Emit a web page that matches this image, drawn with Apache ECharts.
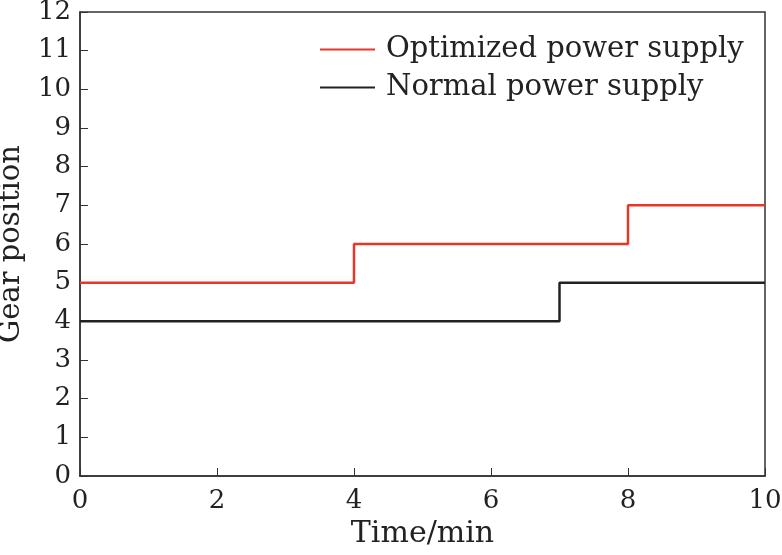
<!DOCTYPE html>
<html>
<head>
<meta charset="utf-8">
<script src="https://cdn.jsdelivr.net/npm/echarts@6/dist/echarts.min.js"></script>
<style>
  html, body { margin: 0; padding: 0; background: #fff; }
  #main { width: 782px; height: 555px; }
</style>
</head>
<body>
<div id="main"></div>
<script>
// gear position steps: each value holds until the next time point
var optTime = [0, 4, 8, 10];
var optGear = [5, 6, 7, 7];
var normTime = [0, 7, 10];
var normGear = [4, 5, 5];
var seriesNames = ['Optimized power supply', 'Normal power supply'];

function pairs(xs, ys) {
    return xs.map(function (x, i) { return [x, ys[i]]; });
}

var font = 'DejaVu Serif';
var myChart = echarts.init(document.getElementById('main'));
var option = {
    animation: false,
    grid: {
        left: 80, right: 17, top: 12, bottom: 79,
        outerBoundsMode: 'none',
        show: true, borderColor: '#333', borderWidth: 1.5
    },
    legend: {
        left: 315, top: 30, orient: 'vertical',
        itemWidth: 55, itemHeight: 2, itemGap: 9,
        icon: 'rect',
        textStyle: { fontFamily: font, fontSize: 29, color: '#222', padding: [0, 0, 0, 6] },
        data: seriesNames
    },
    xAxis: {
        type: 'value', min: 0, max: 10, interval: 2,
        name: 'Time/min', nameLocation: 'middle', nameGap: 31,
        nameTextStyle: { fontFamily: font, fontSize: 30, color: '#222', verticalAlign: 'top' },
        axisLine: { lineStyle: { color: '#333', width: 1.5 } },
        axisTick: { inside: true, length: 8, lineStyle: { color: '#333' } },
        axisLabel: { fontFamily: font, fontSize: 26, color: '#222', margin: 12 },
        splitLine: { show: false }
    },
    yAxis: {
        type: 'value', min: 0, max: 12, interval: 1,
        name: 'Gear position', nameLocation: 'middle', nameGap: 54,
        nameTextStyle: { fontFamily: font, fontSize: 29, color: '#222' },
        axisLine: { show: true, lineStyle: { color: '#333', width: 1.5 } },
        axisTick: { show: true, inside: true, length: 8, lineStyle: { color: '#333' } },
        axisLabel: { fontFamily: font, fontSize: 26, color: '#222', margin: 9 },
        splitLine: { show: false }
    },
    series: [{
        name: seriesNames[0],
        type: 'line', step: 'end', symbol: 'none',
        color: '#e8372a',
        lineStyle: { width: 2.5 },
        data: pairs(optTime, optGear)
    }, {
        name: seriesNames[1],
        type: 'line', step: 'end', symbol: 'none',
        color: '#222',
        lineStyle: { width: 2.5 },
        data: pairs(normTime, normGear)
    }]
};
myChart.setOption(option);
</script>
</body>
</html>
